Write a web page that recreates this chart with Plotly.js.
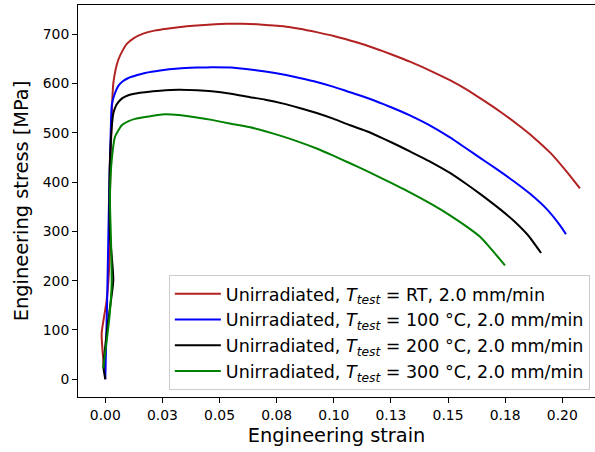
<!DOCTYPE html>
<html>
<head>
<meta charset="utf-8">
<script src="https://cdn.plot.ly/plotly-3.0.1.min.js"></script>
<style>
  html, body { margin: 0; padding: 0; background: #ffffff; }
  #chart { width: 595px; height: 452px; }
</style>
</head>
<body>
<div id="chart"></div>
<script>
// Engineering stress–strain curves, unirradiated specimens, 2.0 mm/min
const seriesNames = [
  "Unirradiated, <i>T</i><sub><i>test</i></sub> = RT, 2.0 mm/min",
  "Unirradiated, <i>T</i><sub><i>test</i></sub> = 100 °C, 2.0 mm/min",
  "Unirradiated, <i>T</i><sub><i>test</i></sub> = 200 °C, 2.0 mm/min",
  "Unirradiated, <i>T</i><sub><i>test</i></sub> = 300 °C, 2.0 mm/min"
];
const seriesColors = ["#b22222", "#0000ff", "#000000", "#008000"];

// Room temperature
const strainRT = [-0.0005, -0.0016, 0.0006, 0.0018, 0.0020, 0.0025, 0.0030, 0.0035, 0.0045, 0.0057, 0.0075, 0.0094, 0.0125, 0.0166, 0.0215, 0.0269, 0.0320, 0.0384, 0.0450, 0.0530, 0.0600, 0.0663, 0.0720, 0.0779, 0.0850, 0.0925, 0.1000, 0.1071, 0.1150, 0.1217, 0.1290, 0.1333, 0.1435, 0.1510, 0.1580, 0.1650, 0.1727, 0.1800, 0.1873, 0.1950, 0.2019, 0.2077];
const stressRT = [20, 93, 160, 240, 363, 480, 560, 600, 628, 648, 666, 680, 692, 701, 707, 711, 714, 717, 719, 721, 721, 720, 718, 716, 711, 704, 696, 687, 676, 665, 652, 644, 623, 606, 588, 567, 543, 518, 491, 458, 421, 387];

// 100 °C
const strain100 = [0.0000, 0.0003, 0.0008, 0.0013, 0.0017, 0.0022, 0.0028, 0.0035, 0.0042, 0.0057, 0.0075, 0.0101, 0.0140, 0.0174, 0.0240, 0.0320, 0.0400, 0.0466, 0.0550, 0.0634, 0.0700, 0.0779, 0.0850, 0.0925, 0.1000, 0.1071, 0.1150, 0.1217, 0.1290, 0.1333, 0.1435, 0.1510, 0.1580, 0.1640, 0.1713, 0.1786, 0.1859, 0.1932, 0.1990, 0.2016];
const stress100 = [0, 60, 160, 282, 380, 470, 555, 570, 580, 595, 604, 611, 617, 621, 626, 630, 632, 633, 632, 628, 624, 618, 611, 603, 593, 582, 570, 558, 544, 535, 511, 490, 468, 449, 426, 402, 376, 345, 312, 294];

// 200 °C
const strain200 = [0.0000, -0.0008, 0.0010, 0.0035, 0.0020, 0.0018, 0.0020, 0.0028, 0.0035, 0.0045, 0.0057, 0.0075, 0.0101, 0.0140, 0.0174, 0.0240, 0.0320, 0.0400, 0.0466, 0.0550, 0.0634, 0.0700, 0.0779, 0.0850, 0.0925, 0.1000, 0.1071, 0.1150, 0.1217, 0.1290, 0.1333, 0.1435, 0.1510, 0.1580, 0.1640, 0.1727, 0.1786, 0.1850, 0.1907];
const stress200 = [0, 25, 110, 201, 296, 363, 440, 510, 539, 553, 562, 570, 576, 580, 582, 585, 587, 586, 584, 579, 572, 567, 559, 550, 540, 528, 515, 502, 488, 472, 462, 438, 418, 396, 376, 345, 322, 292, 256];

// 300 °C
const strain300 = [-0.0009, 0.0018, 0.0028, 0.0025, 0.0020, 0.0022, 0.0028, 0.0042, 0.0072, 0.0100, 0.0130, 0.0190, 0.0247, 0.0320, 0.0400, 0.0466, 0.0550, 0.0634, 0.0700, 0.0779, 0.0850, 0.0925, 0.1000, 0.1071, 0.1150, 0.1217, 0.1290, 0.1333, 0.1435, 0.1510, 0.1580, 0.1640, 0.1676, 0.1749];
const stress300 = [22, 126, 195, 280, 363, 400, 444, 491, 515, 523, 528, 533, 537, 536, 531, 526, 518, 511, 503, 492, 481, 468, 453, 438, 421, 406, 389, 379, 353, 332, 310, 289, 271, 231];

// Axis ticks
const xTickVals = [0, 0.025, 0.05, 0.075, 0.1, 0.125, 0.15, 0.175, 0.2];
const xTickText = ["0.00", "0.03", "0.05", "0.08", "0.10", "0.13", "0.15", "0.18", "0.20"];
const yTickVals = [0, 100, 200, 300, 400, 500, 600, 700];

const xs = [strainRT, strain100, strain200, strain300];
const ys = [stressRT, stress100, stress200, stress300];

const traces = xs.map((x, i) => ({
  type: "scatter",
  mode: "lines",
  x: x,
  y: ys[i],
  name: seriesNames[i],
  line: { color: seriesColors[i], width: 2, shape: "spline", smoothing: 0.5 }
}));

const fontFamily = "DejaVu Sans, sans-serif";

const layout = {
  width: 595,
  height: 452,
  margin: { l: 78, r: 0, t: 5, b: 55, pad: 0 },
  paper_bgcolor: "#ffffff",
  plot_bgcolor: "#ffffff",
  font: { family: fontFamily, color: "#000000" },
  showlegend: true,
  legend: {
    x: 0.99, xanchor: "right",
    y: 0.018, yanchor: "bottom",
    bgcolor: "rgba(255,255,255,0.8)",
    bordercolor: "#cccccc",
    borderwidth: 1,
    itemwidth: 46,
    font: { family: fontFamily, size: 17.5, color: "#000000" }
  },
  xaxis: {
    range: [-0.01195, 0.2143],
    tickvals: xTickVals,
    ticktext: xTickText,
    ticks: "outside", ticklen: 5, tickwidth: 1, tickcolor: "#000000",
    showline: true, linecolor: "#000000", linewidth: 1, mirror: true,
    showgrid: false, zeroline: false,
    tickfont: { family: fontFamily, size: 13.9, color: "#000000" },
    title: { text: "Engineering strain", font: { family: fontFamily, size: 19.4, color: "#000000" }, standoff: 6 },
    automargin: false
  },
  yaxis: {
    range: [-36, 759],
    tickvals: yTickVals,
    ticks: "outside", ticklen: 5, tickwidth: 1, tickcolor: "#000000",
    showline: true, linecolor: "#000000", linewidth: 1, mirror: false,
    showgrid: false, zeroline: false,
    tickfont: { family: fontFamily, size: 13.9, color: "#000000" },
    title: { text: "Engineering stress [MPa]", font: { family: fontFamily, size: 19.4, color: "#000000" }, standoff: 8 },
    automargin: false
  }
};

Plotly.newPlot("chart", traces, layout, { displayModeBar: false, staticPlot: true });
</script>
</body>
</html>
